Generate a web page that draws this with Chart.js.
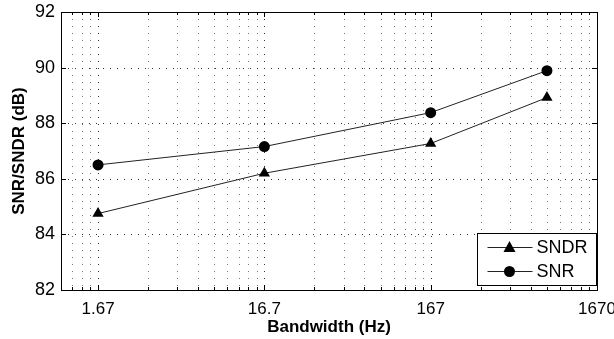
<!DOCTYPE html>
<html><head><meta charset="utf-8">
<script src="https://cdn.jsdelivr.net/npm/chart.js@4/dist/chart.umd.min.js"></script>
<style>html,body{margin:0;padding:0;background:#fff}#wrap{width:614px;height:339px}</style>
</head><body><div id="wrap"><canvas id="c" width="614" height="339"></canvas></div>
<script>
const bandwidth = [1.67, 16.7, 167, 835];
const sndr = [84.75, 86.2, 87.27, 88.92];
const snr = [86.5, 87.16, 88.38, 89.89];
const xTickValues = [1.67, 16.7, 167, 1670];
const xTickLabels = ['1.67', '16.7', '167', '1670'];
const yTickValues = [82, 84, 86, 88, 90, 92];
const seriesNames = ['SNDR', 'SNR'];

const FONT = 'Liberation Sans, Arial, sans-serif';
const xMin = 1, xMax = 1670;
const minorX = [];
[0.167, 1.67, 16.7, 167].forEach(b => { for (let k = 2; k <= 9; k++) { const v = +(b * k).toFixed(4); if (v > xMin * 1.02 && v < xMax) minorX.push(v); } });
const allX = xTickValues.concat(minorX).sort((a, b) => a - b);

const gridPlugin = {
  id: 'dottedGrid',
  beforeDatasetsDraw(chart) {
    const { ctx, chartArea: a, scales: { x, y } } = chart;
    ctx.save();
    ctx.lineWidth = 1;
    ctx.setLineDash([1, 6]);
    x.ticks.forEach(t => {
      const px = Math.round(x.getPixelForValue(t.value)) + 0.5;
      if (px < a.left + 2 || px > a.right - 2) return;
      ctx.strokeStyle = xTickValues.includes(t.value) ? '#333' : '#777';
      ctx.beginPath(); ctx.moveTo(px, a.top); ctx.lineTo(px, a.bottom); ctx.stroke();
    });
    y.ticks.forEach(t => {
      const py = Math.round(y.getPixelForValue(t.value)) + 0.5;
      if (py < a.top + 2 || py > a.bottom - 2) return;
      ctx.strokeStyle = '#333';
      ctx.beginPath(); ctx.moveTo(a.left, py); ctx.lineTo(a.right, py); ctx.stroke();
    });
    ctx.restore();
  }
};

const frame = {
  id: 'frame',
  afterDatasetsDraw(chart) {
    const { ctx, chartArea: a, scales: { x, y } } = chart;
    ctx.save();
    ctx.strokeStyle = '#000'; ctx.lineWidth = 1;
    ctx.strokeRect(Math.round(a.left) + 0.5, Math.round(a.top) + 0.5, Math.round(a.right - a.left), Math.round(a.bottom - a.top));
    ctx.beginPath();
    allX.forEach(v => {
      const px = Math.round(x.getPixelForValue(v)) + 0.5;
      const L = xTickValues.includes(v) ? 5 : 3;
      ctx.moveTo(px, a.bottom); ctx.lineTo(px, a.bottom - L);
      ctx.moveTo(px, a.top); ctx.lineTo(px, a.top + L);
    });
    yTickValues.forEach(v => {
      const py = Math.round(y.getPixelForValue(v)) + 0.5;
      ctx.moveTo(a.left, py); ctx.lineTo(a.left + 5, py);
      ctx.moveTo(a.right, py); ctx.lineTo(a.right - 5, py);
    });
    ctx.stroke();
    // legend
    const bx = 477.5, by = 233.5, bw = 119, bh = 52;
    ctx.fillStyle = '#fff'; ctx.fillRect(bx, by, bw, bh);
    ctx.strokeRect(bx, by, bw, bh);
    chart.data.datasets.forEach((ds, i) => {
      const cy = by + 14 + i * 24;
      ctx.strokeStyle = '#222'; ctx.lineWidth = 1;
      ctx.beginPath(); ctx.moveTo(bx + 10, cy); ctx.lineTo(bx + 55, cy); ctx.stroke();
      ctx.fillStyle = '#000';
      ctx.beginPath();
      if (ds.pointStyle === 'triangle') {
        ctx.moveTo(bx + 32, cy - 6.5); ctx.lineTo(bx + 38, cy + 4.5); ctx.lineTo(bx + 26, cy + 4.5); ctx.closePath();
      } else {
        ctx.arc(bx + 32, cy, 5.5, 0, Math.PI * 2);
      }
      ctx.fill();
      ctx.font = '18px ' + FONT; ctx.textBaseline = 'middle'; ctx.textAlign = 'left';
      ctx.fillText(ds.label, bx + 59, cy + 1);
    });
    ctx.restore();
  }
};

new Chart(document.getElementById('c'), {
  type: 'line',
  data: {
    datasets: [
      { label: seriesNames[0], data: bandwidth.map((b, i) => ({ x: b, y: sndr[i] })), borderColor: '#222', borderWidth: 1, pointStyle: 'triangle', pointRadius: 6.5, pointBackgroundColor: '#000', pointBorderColor: '#000', pointBorderWidth: 0 },
      { label: seriesNames[1], data: bandwidth.map((b, i) => ({ x: b, y: snr[i] })), borderColor: '#222', borderWidth: 1, pointStyle: 'circle', pointRadius: 5.5, pointBackgroundColor: '#000', pointBorderColor: '#000', pointBorderWidth: 0 }
    ]
  },
  options: {
    responsive: false, animation: false,
    layout: { padding: { top: 12, right: 17, left: 0, bottom: 0 } },
    plugins: { legend: { display: false }, tooltip: { enabled: false } },
    scales: {
      x: {
        type: 'logarithmic', min: xMin, max: xMax,
        afterBuildTicks(s) { s.ticks = allX.map(v => ({ value: v })); },
        afterFit(s) { s.height = 49; s.paddingLeft = 0; s.paddingRight = 0; },
        ticks: { autoSkip: false, maxRotation: 0, padding: 9, color: '#000', font: { family: FONT, size: 17 },
          callback(v) { const i = xTickValues.indexOf(v); return i >= 0 ? xTickLabels[i] : ''; } },
        grid: { display: false, drawTicks: false },
        border: { display: false },
        title: { display: true, text: 'Bandwidth (Hz)', color: '#000', font: { family: FONT, size: 17, weight: 'bold' }, padding: { top: 0, bottom: 1 } }
      },
      y: {
        min: 82, max: 92,
        afterBuildTicks(s) { s.ticks = yTickValues.map(v => ({ value: v })); },
        afterFit(s) { s.width = 61; s.paddingTop = 0; s.paddingBottom = 0; },
        ticks: { padding: 6, color: '#000', font: { family: FONT, size: 18 } },
        grid: { display: false, drawTicks: false },
        border: { display: false },
        title: { display: true, text: 'SNR/SNDR (dB)', color: '#000', font: { family: FONT, size: 17, weight: 'bold' }, padding: { top: 9, bottom: 0 } }
      }
    }
  },
  plugins: [gridPlugin, frame]
});
</script></body></html>
